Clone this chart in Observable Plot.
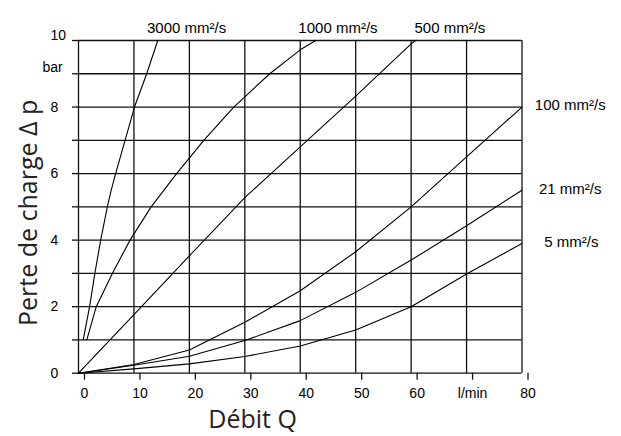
<!DOCTYPE html>
<html><head><meta charset="utf-8">
<script src="https://cdn.jsdelivr.net/npm/d3@7"></script>
<script src="https://cdn.jsdelivr.net/npm/@observablehq/plot@0.6"></script>
<style>html,body{margin:0;padding:0;background:#fff} svg{display:block}</style>
</head><body><div id="chart"></div>
<script>
// Flow Q (l/min) vs pressure drop Δp (bar), one series per viscosity
const v3000 = [[0.85,1],[2.0,2],[2.95,3],[4.0,4],[5.2,5],[5.9,5.5],[6.7,6],[8.4,7],[10.1,8],[12.3,9],[14.3,10]];
const v1000 = [[1.5,1],[3.2,2],[6.1,3],[9.3,4],[13.1,5],[17.7,6],[22.6,7],[28.0,8],[34.5,9],[40,9.72],[42.8,10]];
const v500  = [[0,0],[10,1.76],[20,3.53],[30,5.28],[40,6.8],[50,8.33],[60,9.9],[60.8,10]];
const v100  = [[0,0],[10,0.26],[20,0.7],[30,1.53],[40,2.48],[50,3.65],[60,5.0],[70,6.5],[80,8.0]];
const v21   = [[0,0],[10,0.24],[20,0.51],[30,0.98],[40,1.58],[50,2.43],[60,3.4],[70,4.43],[80,5.5]];
const v5    = [[0,0],[10,0.13],[20,0.28],[30,0.5],[40,0.82],[50,1.3],[60,2.0],[70,2.98],[80,3.9]];

const seriesNames = ["3000 mm²/s","1000 mm²/s","500 mm²/s","100 mm²/s","21 mm²/s","5 mm²/s"];
const seriesData = [v3000, v1000, v500, v100, v21, v5];
const labelX = [19.5, 46.8, 67.0, 88.7, 88.7, 88.9];
const labelY = [10.37, 10.37, 10.37, 8.06, 5.54, 3.95];

const xTicks = [0,10,20,30,40,50,60,70,80];
const xTickLabels = ["0","10","20","30","40","50","60","l/min","80"];
const yGrid = [0,1,2,3,4,5,6,7,8,9,10];
const yTickVals = [0,2,4,6,8];
const yTopLabel = [10];
const yUnitLabel = [{v: 9, t: "bar"}];

const xTitle = "Débit Q";
const yTitle = "Perte de charge Δ p";

const rows = seriesData.flatMap((pts, i) => pts.map(([q, p]) => ({series: seriesNames[i], q, p})));
const labels = seriesNames.map((n, i) => ({n, x: labelX[i], y: labelY[i]}));

const gridStyle = {stroke: "#111", strokeOpacity: 1, strokeWidth: 1.3};

const chart = Plot.plot({
  width: 621, height: 436,
  marginLeft: 78, marginRight: 99.5, marginTop: 40, marginBottom: 63.3,
  x: {domain: [0, 80]},
  y: {domain: [0, 10]},
  style: {fontFamily: "'Liberation Sans', Arial, sans-serif", fontSize: "14px", color: "#000", background: "#fff"},
  marks: [
    Plot.gridX(xTicks, gridStyle),
    Plot.gridY(yGrid, gridStyle),
    Plot.axisX(xTicks, {tickSize: 7, tickPadding: 8, stroke: "#111", strokeWidth: 1.3,
      tickFormat: d => xTickLabels[xTicks.indexOf(d)], label: null, fontSize: 14, dx: 6}),
    Plot.axisY(yGrid, {tickSize: 6, stroke: "#111", strokeWidth: 1.3, tickFormat: () => "", label: null}),
    Plot.text(yTickVals, {y: d => d, text: d => String(d), frameAnchor: "left", dx: -28, textAnchor: "start", fontSize: 14}),
    Plot.text(yTopLabel, {y: d => d, text: d => String(d), frameAnchor: "left", dx: -28, dy: -5, textAnchor: "start", fontSize: 14}),
    Plot.text(yUnitLabel, {y: "v", text: "t", frameAnchor: "left", dx: -36, dy: -6, textAnchor: "start", fontSize: 14}),
    Plot.line(rows, {x: "q", y: "p", z: "series", stroke: "#000", strokeWidth: 1.1}),
    Plot.text(labels, {x: "x", y: "y", text: "n", fontSize: 15}),
    Plot.text([{t: xTitle, x: 31.4}], {x: "x", text: "t", frameAnchor: "bottom", dy: 47,
      textAnchor: "middle", lineAnchor: "middle",
      fontSize: 25, fontFamily: "'Open Sans', sans-serif", fill: "#222"}),
    Plot.text([{t: yTitle, y: 4.82}], {y: "y", text: "t", frameAnchor: "left", dx: -50, rotate: -90,
      textAnchor: "middle", lineAnchor: "middle",
      fontSize: 25, fontFamily: "'Open Sans', sans-serif", fill: "#222"})
  ]
});
document.getElementById("chart").appendChild(chart);
</script>
</body></html>
